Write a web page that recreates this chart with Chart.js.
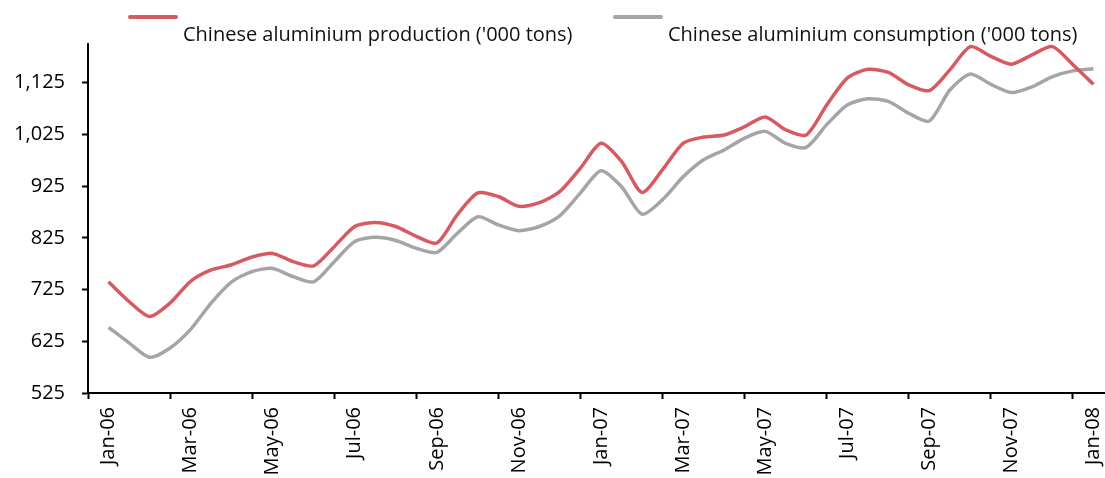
<!DOCTYPE html>
<html lang="en">
<head>
    <meta charset="UTF-8">
    <title>Chinese aluminium production vs consumption</title>
    <script src="https://cdn.jsdelivr.net/npm/chart.js"></script>
    <style>
        html, body {
            margin: 0;
            padding: 0;
            background: #ffffff;
            overflow: hidden;
            font-family: 'Open Sans', sans-serif;
        }

        .wrap {
            position: relative;
            width: 1116px;
            height: 478px;
        }

        canvas { display: block; }

        .legend-item {
            position: absolute;
            top: 0;
            height: 60px;
        }

        .legend-line {
            position: absolute;
            top: 15px;
            height: 4px;
            width: 50px;
            border-radius: 2px;
        }

        .legend-text {
            position: absolute;
            top: 22px;
            left: 55px;
            white-space: nowrap;
            font-size: 20px;
            line-height: 24px;
            color: #111;
        }
    </style>
</head>
<body>

<div class="wrap">
    <!-- a bit wider than the window: the last category runs past the right edge, as in the original -->
    <canvas id="mainChart" width="1116" height="478"></canvas>
    <div id="legend"></div>
</div>

<script>
    // month labels on the category axis (one per month)
    const months = [
        'Jan-06', 'Feb-06', 'Mar-06', 'Apr-06', 'May-06', 'Jun-06', 'Jul-06', 'Aug-06',
        'Sep-06', 'Oct-06', 'Nov-06', 'Dec-06', 'Jan-07', 'Feb-07', 'Mar-07', 'Apr-07',
        'May-07', 'Jun-07', 'Jul-07', 'Aug-07', 'Sep-07', 'Oct-07', 'Nov-07', 'Dec-07',
        'Jan-08'
    ];

    // half-monthly readings, '000 tons
    const production = [
        740, 702, 673, 699, 741, 763, 773, 788, 795, 779, 771, 808, 847, 855, 847, 828,
        815, 870, 912, 905, 886, 893, 915, 960, 1008, 973, 913, 957, 1008, 1020, 1024, 1040,
        1059, 1034, 1024, 1082, 1134, 1151, 1145, 1121, 1110, 1150, 1195, 1176, 1161, 1179, 1195, 1160,
        1122
    ];

    const consumption = [
        652, 622, 594, 612, 648, 699, 740, 760, 766, 750, 740, 779, 818, 826, 820, 805,
        797, 834, 866, 850, 839, 847, 868, 912, 955, 924, 871, 899, 943, 976, 995, 1018,
        1031, 1008, 1000, 1044, 1082, 1094, 1089, 1066, 1051, 1111, 1142, 1122, 1106, 1117, 1137, 1148,
        1152
    ];

    const yTicks = [525, 625, 725, 825, 925, 1025, 1125];

    const seriesNames = [
        "Chinese aluminium production ('000 tons)",
        "Chinese aluminium consumption ('000 tons)"
    ];

    const RED = '#D65A5F';
    const GREY = '#A5A5A8';
    const FONT = { family: "'Open Sans', sans-serif", size: 20 };

    const toPoints = arr => arr.map((y, i) => ({ x: i, y: y }));

    const chart = new Chart(document.getElementById('mainChart'), {
        type: 'line',
        data: {
            labels: months,
            datasets: [
                {
                    label: seriesNames[0],
                    data: toPoints(production),
                    xAxisID: 'xData',
                    borderColor: RED,
                    borderWidth: 3.5,
                    pointRadius: 0,
                    tension: 0.25,
                    fill: false
                },
                {
                    label: seriesNames[1],
                    data: toPoints(consumption),
                    xAxisID: 'xData',
                    borderColor: GREY,
                    borderWidth: 3.5,
                    pointRadius: 0,
                    tension: 0.25,
                    fill: false
                }
            ]
        },
        options: {
            responsive: false,
            animation: false,
            layout: { padding: { top: 44, right: 2, left: 0, bottom: 0 } },
            plugins: {
                legend: { display: false },
                tooltip: { enabled: false }
            },
            scales: {
                x: {
                    type: 'category',
                    offset: true,
                    grid: {
                        offset: true,
                        drawOnChartArea: false,
                        drawTicks: true,
                        tickLength: 6,
                        tickWidth: 2,
                        tickColor: ctx => (ctx.index % 2 === 0 ? '#000' : 'rgba(0,0,0,0)')
                    },
                    border: { display: true, color: '#000', width: 2 },
                    ticks: {
                        autoSkip: false,
                        minRotation: 90,
                        maxRotation: 90,
                        padding: 8,
                        color: '#000',
                        font: FONT,
                        callback: function (val, idx) {
                            return idx % 2 === 0 ? this.getLabelForValue(val) : '';
                        }
                    },
                    // fixed band height, no extra side padding for the rotated end labels
                    afterFit: s => { s.height = 85; s.paddingLeft = 0; s.paddingRight = 0; }
                },
                xData: {
                    type: 'linear',
                    display: false,
                    min: -1,
                    max: production.length
                },
                y: {
                    min: 525,
                    max: 1200,
                    grid: {
                        drawOnChartArea: false,
                        drawTicks: true,
                        tickLength: 6,
                        tickWidth: 2,
                        tickColor: '#000'
                    },
                    border: { display: true, color: '#000', width: 2 },
                    ticks: {
                        padding: 17,
                        color: '#000',
                        font: FONT,
                        callback: v => v.toLocaleString('en-US')
                    },
                    afterBuildTicks: s => { s.ticks = yTicks.map(v => ({ value: v })); },
                    afterFit: s => { s.width = 88; s.paddingTop = 0; s.paddingBottom = 0; }
                }
            }
        }
    });

    // legend: coloured line above, label below-right (Excel style)
    const legendPos = [128, 613];
    const legend = document.getElementById('legend');
    chart.data.datasets.forEach((ds, i) => {
        const item = document.createElement('div');
        item.className = 'legend-item';
        item.style.left = legendPos[i] + 'px';
        const line = document.createElement('div');
        line.className = 'legend-line';
        line.style.background = ds.borderColor;
        const text = document.createElement('div');
        text.className = 'legend-text';
        text.textContent = ds.label;
        item.appendChild(line);
        item.appendChild(text);
        legend.appendChild(item);
    });
</script>
</body>
</html>
